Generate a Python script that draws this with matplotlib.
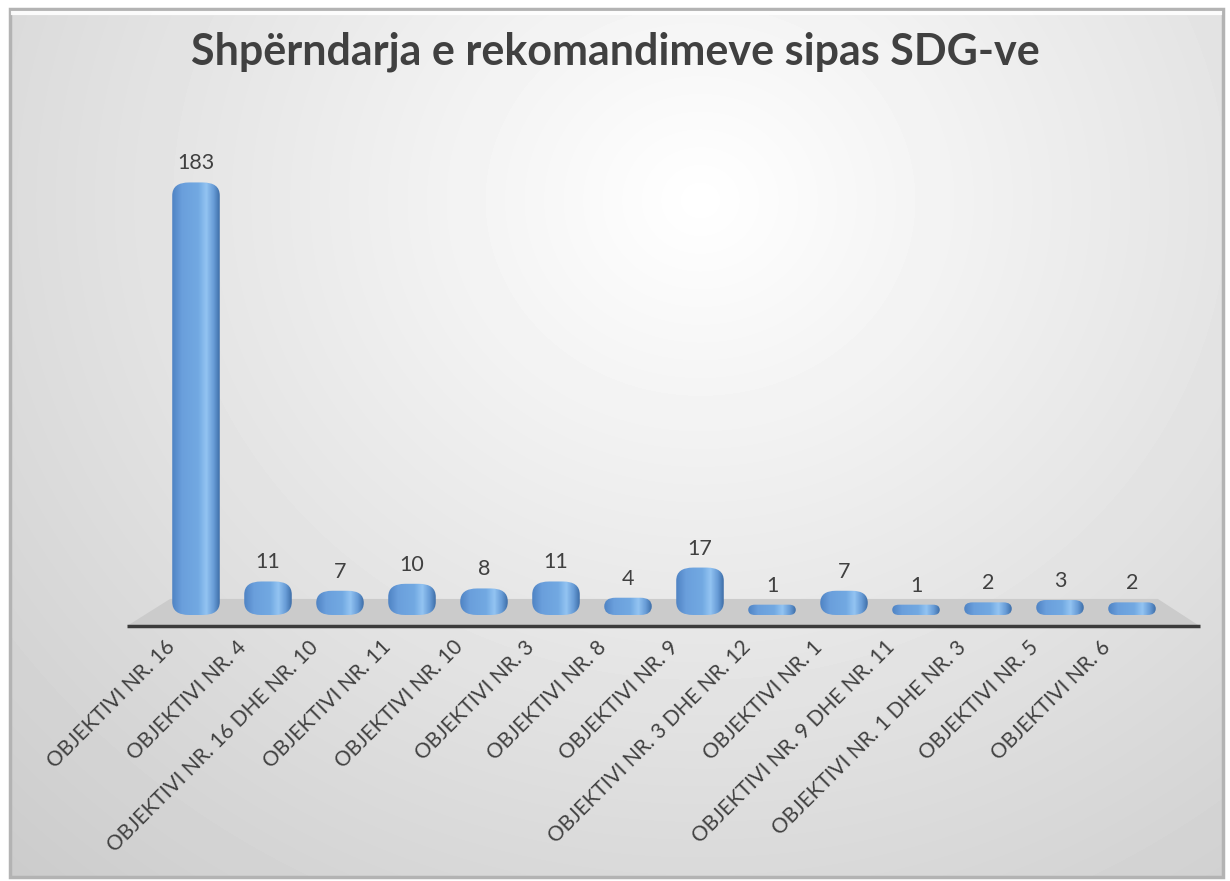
import numpy as np
import matplotlib
matplotlib.use("agg")
import matplotlib.pyplot as plt
from matplotlib.patches import FancyBboxPatch, Polygon, Rectangle
from matplotlib.colors import LinearSegmentedColormap

# data
categories = ["OBJEKTIVI NR. 16", "OBJEKTIVI NR. 4", "OBJEKTIVI NR. 16 DHE NR. 10",
              "OBJEKTIVI NR. 11", "OBJEKTIVI NR. 10", "OBJEKTIVI NR. 3",
              "OBJEKTIVI NR. 8", "OBJEKTIVI NR. 9", "OBJEKTIVI NR. 3 DHE NR. 12",
              "OBJEKTIVI NR. 1", "OBJEKTIVI NR. 9 DHE NR. 11", "OBJEKTIVI NR. 1 DHE NR. 3",
              "OBJEKTIVI NR. 5", "OBJEKTIVI NR. 6"]
counts = [183, 11, 7, 10, 8, 11, 4, 17, 1, 7, 1, 2, 3, 2]
title = "Shpërndarja e rekomandimeve sipas SDG-ve"

plt.rcParams["font.family"] = ["Lato", "DejaVu Sans"]

W, H = 1230, 881
fig = plt.figure(figsize=(W / 100, H / 100), dpi=100)

# background: soft grey radial gradient inside a bevelled frame
bg = fig.add_axes([0, 0, 1, 1], zorder=-2)
yy, xx = np.mgrid[0:H, 0:W]
d = np.hypot(xx - 700, (yy - 200) * 1.1) / 900
g = np.clip(1 - 0.18 * d, 0.8, 1)
inside = (xx > 10) & (xx < 1223) & (yy > 9) & (yy < 877)
g[~inside] = 1
bg.imshow(g, cmap="gray", vmin=0, vmax=1, extent=[0, W, H, 0], aspect="auto",
          interpolation="bilinear")
bg.add_patch(Rectangle((10, 9), 1213, 868, fill=False, ec="#b3b3b3", lw=2.5))
bg.plot([13, 1220], [13, 13], color="white", lw=3, alpha=0.9)
bg.set_xlim(0, W)
bg.set_ylim(H, 0)
bg.axis("off")

# main axes, laid out in pixel terms
s = 2.32          # px per unit of count
zero_px = 611     # pixel row of count 0
ylo, yhi = -10, 195
ax = fig.add_axes([124 / W, (H - (zero_px - ylo * s)) / H, 1080 / W, (yhi - ylo) * s / H])
ax.patch.set_alpha(0)
for sp in ax.spines.values():
    sp.set_visible(False)
ax.set_yticks([])

n = len(categories)

# floor
front, back = -6.5, 5.2
ax.add_patch(Polygon([(-0.96, front), (n - 1 + 0.94, front), (n - 1 + 0.36, back), (-0.36, back)],
                     closed=True, fc="#cbcbcb", ec="none", zorder=1))
ax.plot([-0.96, n - 1 + 0.94], [front, front], color="#3b3b3b", lw=2.5, zorder=2,
        solid_capstyle="butt")

# cylinder-ish bars
cyl = LinearSegmentedColormap.from_list(
    "cyl", [(0, "#4f83c4"), (0.2, "#6a9fdc"), (0.55, "#72a9e2"), (0.72, "#93c4f2"),
            (0.88, "#679bd6"), (1, "#3f6fa9")])
grad = np.linspace(0, 1, 64).reshape(1, -1)
bw = 0.66
pad_px = 4
for i, v in enumerate(counts):
    y0 = -pad_px / s
    y1 = v + pad_px / s
    h_px = (y1 - y0) * s
    ry = min(13, h_px / 2)
    rx = 17 * ry / 13
    dr = rx / 72
    patch = FancyBboxPatch((i - bw / 2, y0), bw, y1 - y0,
                           boxstyle=f"round,pad=0,rounding_size={dr}",
                           mutation_aspect=(ry / s) / dr, fc="none", ec="none", zorder=3)
    ax.add_patch(patch)
    im = ax.imshow(grad, cmap=cyl, extent=[i - bw / 2, i + bw / 2, y0, y1], aspect="auto",
                   zorder=3, interpolation="bilinear")
    im.set_clip_path(patch)

    ax.annotate(str(v), (i, v), xytext=(0, (pad_px + 13) * 0.72), textcoords="offset points",
                ha="center", va="baseline", fontsize=15.5, color="#404040", zorder=5,
                annotation_clip=False)

ax.set_xlim(-1, 14)
ax.set_ylim(ylo, yhi)

# rotated category labels, ending just left of each bar
ax.set_xticks(np.arange(n) - 0.44)
ax.set_xticklabels(categories, rotation=45, ha="right", rotation_mode="anchor",
                   fontsize=15, color="#404040")
ax.tick_params(axis="x", length=0, pad=2)

fig.text(615 / W, 1 - 52 / H, title, ha="center", va="center", fontsize=31,
         fontweight="bold", color="#404040")

fig.savefig("out.png", dpi=100)
